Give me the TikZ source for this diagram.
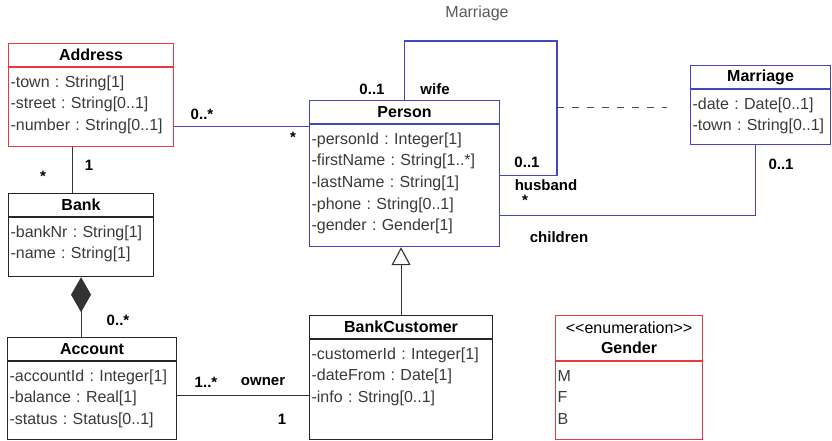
\documentclass[tikz,border=0pt]{standalone}
\usepackage{fontspec}
\setmainfont{Liberation Sans}
\usetikzlibrary{arrows.meta,positioning}
\definecolor{umlblue}{HTML}{4545BF}
\definecolor{umlred}{HTML}{E8393E}
\definecolor{attrgray}{HTML}{3A3A3A}
\tikzset{
  cls/.style={draw=black!85,line width=1.1pt,inner sep=0pt,minimum height=23pt,
    anchor=north west,align=center,font=\bfseries\fontsize{16}{20}\selectfont},
  clsr/.style={cls,draw=umlred},
  clsb/.style={cls,draw=umlblue},
  attr/.style={draw=black!85,line width=1.1pt,inner xsep=2pt,inner ysep=4pt,
    align=left,text height=15.5pt,text=attrgray,
    font=\fontsize{16}{21.7}\selectfont\frenchspacing},
  attrr/.style={attr,draw=umlred},
  attrb/.style={attr,draw=umlblue},
  mult/.style={inner sep=0pt,font=\bfseries\fontsize{15}{18}\selectfont},
  assocname/.style={inner sep=0pt,text=black!65,font=\fontsize{16}{18}\selectfont},
  link/.style={draw=black!80,line width=1.1pt},
  assoc/.style={draw=umlblue,line width=1.3pt},
  gen/.style={link,-{Triangle[open,length=18pt,width=19pt,fill=white]}},
  comp/.style={link,-{Diamond[length=35pt,width=20pt]}},
  aclass/.style={draw=black!70,line width=1pt,dash pattern=on 7pt off 8pt,shorten >=23pt},
}
\begin{document}
\begin{tikzpicture}[x=1pt,y=-1pt]
  \useasboundingbox (0,0) rectangle (832,440);
  % classes: name compartment + attribute compartment
  \node[clsr,minimum width=165pt] (addr) at (8,43) {Address};
  \node[attrr,below=0pt of addr,text width=161pt,text depth=55.5pt] (addrb)
    {-town : String[1]\\-street : String[0..1]\\-number : String[0..1]};
  \node[clsb,minimum width=190pt] (per) at (309,100) {Person};
  \node[attrb,below=0pt of per,text width=186pt,text depth=98.5pt] (perb)
    {-personId : Integer[1]\\-firstName : String[1..*]\\-lastName : String[1]\\
     -phone : String[0..1]\\-gender : Gender[1]};
  \node[clsb,minimum width=140pt] (mar) at (690,65) {Marriage};
  \node[attrb,below=0pt of mar,text width=136pt,text depth=31.5pt] (marb)
    {-date : Date[0..1]\\-town : String[0..1]};
  \node[cls,minimum width=145pt] (bank) at (8,193) {Bank};
  \node[attr,below=0pt of bank,text width=141pt,text depth=35.5pt] (bankb)
    {-bankNr : String[1]\\-name : String[1]};
  \node[cls,minimum width=169pt] (acc) at (7,337) {Account};
  \node[attr,below=0pt of acc,text width=165pt,text depth=54.5pt] (accb)
    {-accountId : Integer[1]\\-balance : Real[1]\\-status : Status[0..1]};
  \node[cls,minimum width=183pt] (bc) at (309,315) {BankCustomer};
  \node[attr,below=0pt of bc,text width=179pt,text depth=76.5pt] (bcb)
    {-customerId : Integer[1]\\-dateFrom : Date[1]\\-info : String[0..1]};
  \node[clsr,minimum width=147pt,minimum height=45pt] (gen) at (555,315)
    {{\mdseries<{}<enumeration>{}>}\\Gender};
  \node[attrr,below=0pt of gen,text width=143pt,text depth=54.5pt] (genb)
    {M\\F\\B};

  % associations
  \draw[assoc] ([yshift=-19.5pt]addrb.east) -- ([yshift=-19.5pt]addrb.east -| perb.west);
  \draw[link] ([xshift=-18.5pt]addrb.south) -- ([xshift=-18.5pt]addrb.south |- bank.north);
  \draw[comp] (bankb.south |- acc.north) -- (bankb.south);
  \draw[link] ([yshift=5.5pt]accb.east) -- ([yshift=5.5pt]accb.east -| bcb.west);
  \draw[gen] (bc.north) -- (bc.north |- perb.south);

  % marriage: self association with association class
  \coordinate (wedtop) at (557,41);
  \coordinate (wedmid) at (557,107);
  \draw[assoc] (per.north) |- (wedtop) |- ([yshift=10pt]perb.east);
  \draw[aclass] (wedmid) -- (wedmid -| marb.west);
  \draw[assoc] ([yshift=-30pt]perb.east) -| ([xshift=-5pt]marb.south);
  \node[assocname] (wedname) at (477,13) {Marriage};

  % role names and multiplicities
  \node[mult] (addrmul) at (202,114) {0..*};
  \node[mult] (permul) at (293,137) {*};
  \node[mult] (bankmul) at (89,165) {1};
  \node[mult] (addrmul2) at (43,176) {*};
  \node[mult] (accmul) at (118,320) {0..*};
  \node[mult] (ownmul) at (206,382) {1..*};
  \node[mult] (owner) at (263,382) {owner};
  \node[mult] (bcmul) at (282,419) {1};
  \node[mult] (wifemul) at (372,89) {0..1};
  \node[mult] (wife) at (435,89) {wife};
  \node[mult] (husbmul) at (527,162) {0..1};
  \node[mult] (husband) at (546,185) {husband};
  \node[mult] (kidmul) at (525,200) {*};
  \node[mult] (children) at (559,237) {children};
  \node[mult] (marmul) at (781,164) {0..1};
\end{tikzpicture}
\end{document}
